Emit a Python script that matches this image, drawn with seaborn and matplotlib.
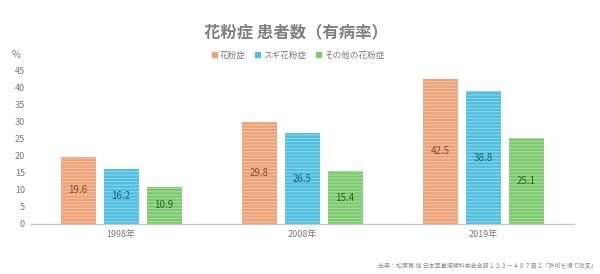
import pandas as pd
import numpy as np
import matplotlib.pyplot as plt
import seaborn as sns

# data
years = ['1998年', '2008年', '2019年']
series = ['花粉症', 'スギ花粉症', 'その他の花粉症']
kafunsho = [19.6, 29.8, 42.5]
sugi = [16.2, 26.5, 38.8]
sonota = [10.9, 15.4, 25.1]

colors = ['#EDA47A', '#4FC0E0', '#7DCB6E']
stripe_colors = ['#F4C3A6', '#8FD6EC', '#A9DDA0']
label_colors = ['#8B4A2B', '#1F5F78', '#2F5F28']

df = pd.DataFrame({
    'year': years * 3,
    'series': [series[0]] * 3 + [series[1]] * 3 + [series[2]] * 3,
    'value': kafunsho + sugi + sonota,
})

sns.set_theme(style='white')
plt.rcParams['font.family'] = ['Noto Sans CJK JP', 'DejaVu Sans']
plt.rcParams['hatch.linewidth'] = 0.7

fig = plt.figure(figsize=(6, 2.74), dpi=100)
ax = fig.add_axes([0.051, 0.1825, 0.905, 0.562])

sns.barplot(data=df, x='year', y='value', hue='series', hue_order=series,
            palette=colors, width=0.713, gap=0.187, ax=ax, legend=False,
            saturation=1)

for i, cont in enumerate(ax.containers):
    for bar in cont:
        bar.set_edgecolor(stripe_colors[i])
        bar.set_hatch('-----')
        bar.set_linewidth(0)
    ax.bar_label(cont, labels=[f'{v:.1f}' for v in cont.datavalues],
                 label_type='center', fontsize=7, color=label_colors[i])

ax.set_ylim(0, 45)
ax.set_yticks(np.arange(0, 46, 5))
ax.set_xlabel('')
ax.set_ylabel('')
ax.tick_params(axis='both', length=0, labelsize=6.5, labelcolor='#777777', pad=4)
for s in ['top', 'right', 'left']:
    ax.spines[s].set_visible(False)
ax.spines['bottom'].set_color('#C8C8C8')
ax.spines['bottom'].set_linewidth(1)

# legend
handles = [plt.Rectangle((0, 0), 1, 1, color=c) for c in colors]
fig.legend(handles, series, loc='center', bbox_to_anchor=(0.497, 0.80), ncol=3,
           frameon=False, fontsize=6.2, handlelength=0.6, handleheight=0.6,
           handletextpad=0.35, columnspacing=1.1, labelcolor='#777777')

fig.text(0.493, 0.883, '花粉症 患者数（有病率）', ha='center', va='center',
         fontsize=11.8, fontweight='bold', color='#7F7F7F')
fig.text(0.027, 0.80, '%', ha='center', va='center', fontsize=7, color='#777777')
fig.text(0.995, 0.03, '出典：松原篤 他 日本耳鼻咽喉科学会会報１２３－４８７頁２「許可を得て改変」',
         ha='right', va='center', fontsize=4.3, color='#8C8C8C')

fig.savefig('out.png', dpi=100, facecolor='white')
